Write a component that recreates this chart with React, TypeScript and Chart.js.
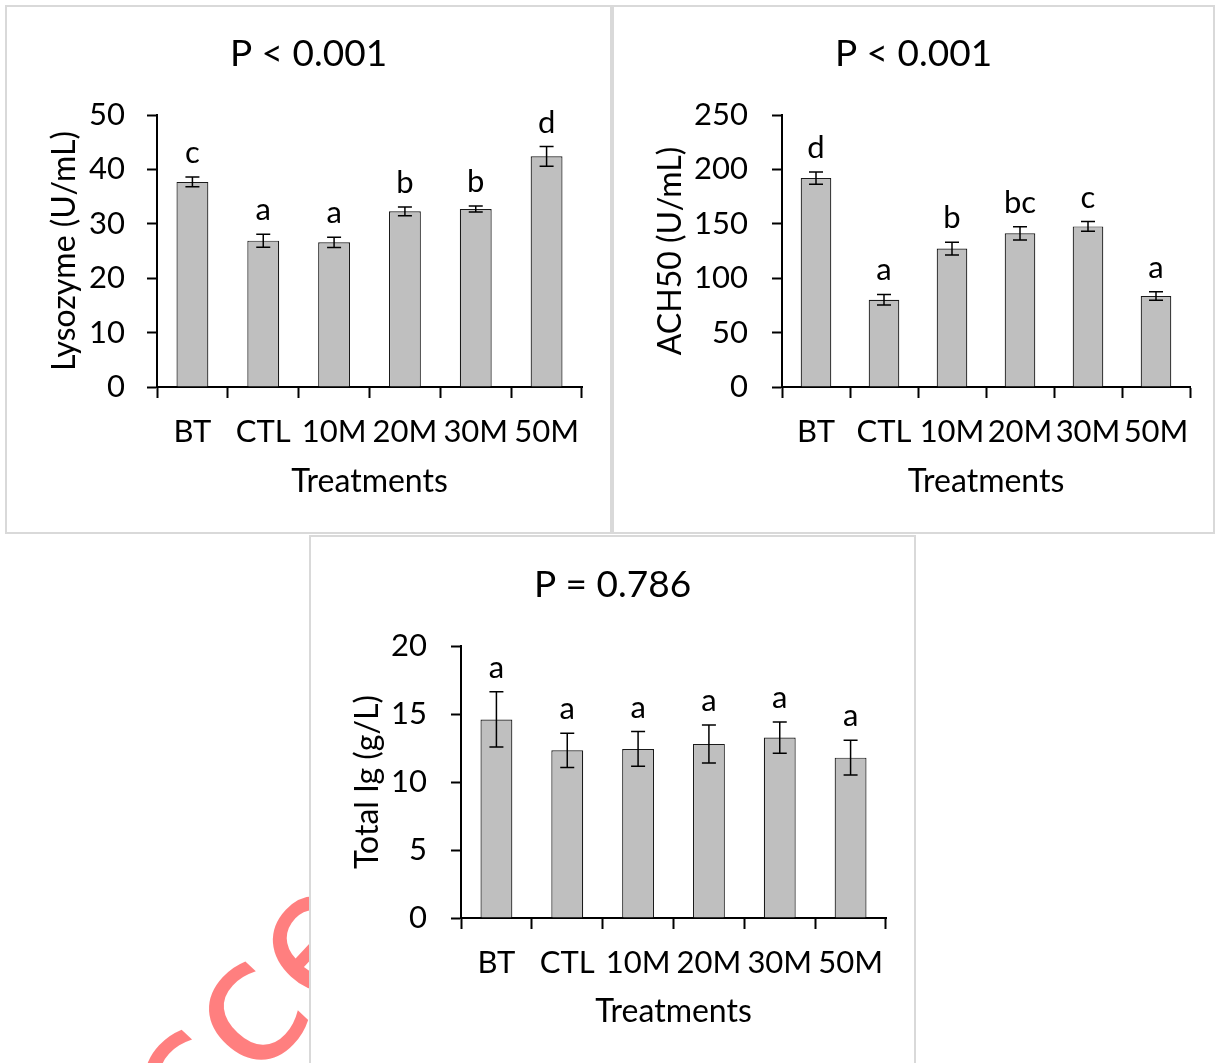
import React, { useEffect, useRef } from "react";
import { Chart, registerables } from "chart.js";

Chart.register(...registerables);

// ---------- data ----------
const categories = ["BT", "CTL", "10M", "20M", "30M", "50M"];

const lysozymeMeans = [37.7, 26.9, 26.6, 32.3, 32.7, 42.4];
const lysozymeErrors = [0.9, 1.2, 0.95, 0.8, 0.55, 1.8];
const lysozymeLetters = ["c", "a", "a", "b", "b", "d"];

const ach50Means = [192, 80.2, 127.2, 141.3, 147.6, 83.6];
const ach50Errors = [5.6, 4.9, 5.8, 6.1, 4.5, 3.9];
const ach50Letters = ["d", "a", "b", "bc", "c", "a"];

const igMeans = [14.6, 12.33, 12.43, 12.8, 13.27, 11.79];
const igErrors = [2.03, 1.26, 1.28, 1.4, 1.15, 1.28];
const igLetters = ["a", "a", "a", "a", "a", "a"];

const titles = ["P < 0.001", "P < 0.001", "P = 0.786"];
const yLabels = ["Lysozyme (U/mL)", "ACH50 (U/mL)", "Total Ig (g/L)"];
const xLabel = "Treatments";
const yMaxes = [50, 250, 20];
const ySteps = [10, 50, 5];

// ---------- style / layout ----------
const FONT = "Lato";
const TXT = 31;
const AXIS_TITLE_TXT = 32;
const TITLE_TXT = 37;
const INK = "#000000";
const BAR_FILL = "#bfbfbf";

const annotatePlugin = {
  id: "annotate",
  afterDatasetsDraw(chart: any, _args: any, opts: any) {
    const { ctx } = chart;
    const y = chart.scales.y;
    const meta = chart.getDatasetMeta(0);
    const values = chart.data.datasets[0].data as number[];
    ctx.save();
    meta.data.forEach((bar: any, i: number) => {
      const v = values[i];
      const e = opts.errors[i];
      const x = bar.x;
      const yTop = y.getPixelForValue(v + e);
      const yBot = y.getPixelForValue(v - e);
      ctx.strokeStyle = INK;
      ctx.lineWidth = 1.5;
      ctx.beginPath();
      ctx.moveTo(x, yTop);
      ctx.lineTo(x, yBot);
      ctx.moveTo(x - 7, yTop);
      ctx.lineTo(x + 7, yTop);
      ctx.moveTo(x - 7, yBot);
      ctx.lineTo(x + 7, yBot);
      ctx.stroke();
      ctx.fillStyle = INK;
      ctx.font = `${TXT}px ${FONT}`;
      ctx.textAlign = "center";
      ctx.textBaseline = "alphabetic";
      ctx.fillText(opts.letters[i], x, yTop - opts.gap);
    });
    ctx.font = `${TITLE_TXT}px ${FONT}`;
    ctx.textAlign = "center";
    ctx.textBaseline = "alphabetic";
    ctx.fillStyle = INK;
    ctx.fillText(opts.title, chart.width / 2, opts.titleBaseline);
    ctx.restore();
  },
};

type PanelLayout = {
  left: number;
  top: number;
  width: number;
  height: number;
  noBottomBorder?: boolean;
  padTop: number;
  padRight: number;
  yWidth: number;
  yTitlePad: number;
  yTickPad: number;
  xTitlePad: number;
  titleBaseline: number;
};

function Panel(props: {
  idx: number;
  means: number[];
  errors: number[];
  letters: string[];
  layout: PanelLayout;
}) {
  const ref = useRef<HTMLCanvasElement | null>(null);
  const { idx, means, errors, letters, layout } = props;
  const border = 2;
  const cw = layout.width - border * 2;
  const ch = layout.height - border * (layout.noBottomBorder ? 1 : 2);

  useEffect(() => {
    if (!ref.current) return;
    const chart = new Chart(ref.current, {
      type: "bar",
      data: {
        labels: categories,
        datasets: [
          {
            data: means,
            backgroundColor: BAR_FILL,
            borderColor: "#1a1a1a",
            borderWidth: 1.2,
            barPercentage: 0.45,
            categoryPercentage: 1,
          },
        ],
      },
      plugins: [annotatePlugin],
      options: {
        animation: false,
        responsive: false,
        maintainAspectRatio: false,
        devicePixelRatio: 1,
        layout: {
          padding: { left: 20, right: layout.padRight, top: layout.padTop, bottom: 0 },
        },
        plugins: {
          legend: { display: false },
          tooltip: { enabled: false },
          // @ts-ignore
          annotate: {
            errors,
            letters,
            gap: 14,
            title: titles[idx],
            titleBaseline: layout.titleBaseline,
          },
        },
        scales: {
          x: {
            grid: {
              display: true,
              drawOnChartArea: false,
              drawTicks: true,
              tickLength: 11,
              tickWidth: 2,
              tickColor: INK,
              offset: true,
            },
            border: { display: true, color: INK, width: 2 },
            ticks: {
              color: INK,
              font: { family: FONT, size: TXT },
              padding: 15,
              maxRotation: 0,
              autoSkip: false,
            },
            title: {
              display: true,
              text: xLabel,
              color: INK,
              font: { family: FONT, size: AXIS_TITLE_TXT },
              padding: { top: 0, bottom: layout.xTitlePad },
            },
            afterFit: (s: any) => {
              s.height = 145;
            },
          },
          y: {
            min: 0,
            max: yMaxes[idx],
            grid: {
              display: true,
              drawOnChartArea: false,
              drawTicks: true,
              tickLength: 10,
              tickWidth: 2,
              tickColor: INK,
            },
            border: { display: true, color: INK, width: 2 },
            ticks: {
              stepSize: ySteps[idx],
              color: INK,
              font: { family: FONT, size: TXT },
              padding: layout.yTickPad,
            },
            title: {
              display: true,
              text: yLabels[idx],
              color: INK,
              font: { family: FONT, size: AXIS_TITLE_TXT },
              padding: { top: layout.yTitlePad, bottom: 0 },
            },
            afterFit: (s: any) => {
              s.width = layout.yWidth;
            },
          },
        },
      } as any,
    });
    return () => chart.destroy();
  }, []);

  return (
    <div
      style={{
        position: "absolute",
        left: layout.left,
        top: layout.top,
        width: layout.width,
        height: layout.height,
        boxSizing: "border-box",
        border: `${border}px solid #d9d9d9`,
        borderBottom: layout.noBottomBorder ? "none" : `${border}px solid #d9d9d9`,
        background: "#ffffff",
      }}
    >
      <canvas
        ref={ref}
        width={cw}
        height={ch}
        style={{ display: "block", width: cw, height: ch }}
      />
    </div>
  );
}

const layouts: PanelLayout[] = [
  {
    left: 5, top: 5, width: 607, height: 529,
    padTop: 108, padRight: 28, yWidth: 130, yTitlePad: 18, yTickPad: 22, xTitlePad: 31, titleBaseline: 59,
  },
  {
    left: 612, top: 5, width: 603, height: 529,
    padTop: 108, padRight: 23, yWidth: 148, yTitlePad: 17, yTickPad: 24, xTitlePad: 31, titleBaseline: 59,
  },
  {
    left: 309, top: 535, width: 607, height: 528, noBottomBorder: true,
    padTop: 109, padRight: 28, yWidth: 130, yTitlePad: 17, yTickPad: 24, xTitlePad: 32, titleBaseline: 60,
  },
];

export default function App() {
  return (
    <div style={{ position: "relative", width: 1215, height: 1063 }}>
      <style>{`html,body{margin:0;overflow:hidden;background:#fff}`}</style>
      <div
        style={{
          position: "absolute",
          left: 0,
          top: 535,
          width: 309,
          height: 528,
          overflow: "hidden",
        }}
      >
        <span
          style={{
            position: "absolute",
            left: 8,
            top: 601,
            fontFamily: "DejaVu Sans",
            fontWeight: "normal",
            fontSize: 170,
            lineHeight: "170px",
            color: "rgba(255,0,0,0.5)",
            whiteSpace: "nowrap",
            transformOrigin: "0 0",
            transform: "rotate(-47deg)",
          }}
        >
          Accepted
        </span>
      </div>
      <Panel idx={0} means={lysozymeMeans} errors={lysozymeErrors} letters={lysozymeLetters} layout={layouts[0]} />
      <Panel idx={1} means={ach50Means} errors={ach50Errors} letters={ach50Letters} layout={layouts[1]} />
      <Panel idx={2} means={igMeans} errors={igErrors} letters={igLetters} layout={layouts[2]} />
    </div>
  );
}
